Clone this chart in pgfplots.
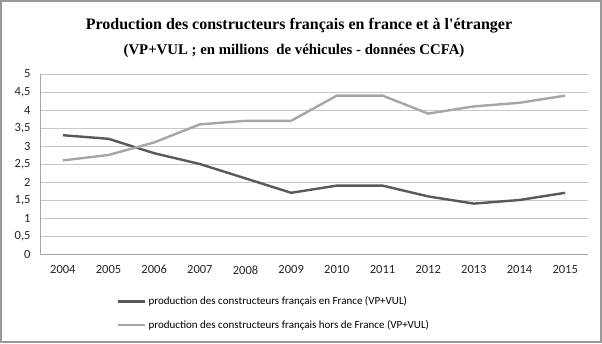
\documentclass[border=0pt]{standalone}
\usepackage{fontspec}
\setmainfont{Carlito}
\newfontfamily\titlefont{Liberation Serif}
\usepackage{pgfplots}
\pgfplotsset{compat=1.18}
\definecolor{darkline}{RGB}{89,89,89}
\definecolor{lightline}{RGB}{166,166,166}
\definecolor{gridc}{RGB}{200,200,200}
\begin{document}
\begin{tikzpicture}[x=1pt,y=1pt]
\fill[white] (0,0) rectangle (602,343);
\draw[line width=2pt, color=gray!80] (1,1) rectangle (601,342);
\node[font=\titlefont\bfseries\fontsize{16}{18}\selectfont] at (299,317) {Production des constructeurs français en france et à l'étranger};
\node[font=\titlefont\bfseries\fontsize{14.8}{17}\selectfont] at (294,292) {(VP+VUL ; en millions\ \ de véhicules - données CCFA)};
\begin{axis}[
  at={(40pt,89pt)}, anchor=south west,
  scale only axis, width=548pt, height=180pt,
  xmin=-0.5, xmax=11.5, ymin=0, ymax=5,
  xtick={0,...,11},
  xticklabels={2004,2005,2006,2007,2008,2009,2010,2011,2012,2013,2014,2015},
  ytick={0,0.5,...,5},
  /pgf/number format/use comma,
  /pgf/number format/fixed,
  /pgf/number format/assume math mode=true,
  tick label style={font=\fontsize{12.5}{14}\selectfont, text=black!85},
  xticklabel style={yshift=-8pt},
  yticklabel style={xshift=-6pt},
  major tick length=0pt,
  ymajorgrids, grid style={color=gridc, line width=0.8pt},
  axis x line=bottom, axis y line=left,
  axis line style={-, color=gray!70, line width=0.8pt},
  legend style={at={(0.1405,-0.225)}, anchor=north west, draw=none, fill=none,
    font=\fontsize{11}{13}\selectfont, row sep=10pt, cells={anchor=west}, inner sep=0pt},
  legend image code/.code={\draw[#1] (0pt,0pt) -- (27pt,0pt);},
  legend cell align=left,
]
\addplot[color=darkline, line width=2.4pt] coordinates {
(0,3.3) (1,3.2) (2,2.8) (3,2.5) (4,2.1) (5,1.7) (6,1.9) (7,1.9) (8,1.6) (9,1.4) (10,1.5) (11,1.7)};
\addlegendentry{production des constructeurs français en France (VP+VUL)}
\addplot[color=lightline, line width=2.4pt] coordinates {
(0,2.6) (1,2.75) (2,3.1) (3,3.6) (4,3.7) (5,3.7) (6,4.4) (7,4.4) (8,3.9) (9,4.1) (10,4.2) (11,4.4)};
\addlegendentry{production des constructeurs français hors de France (VP+VUL)}
\end{axis}
\end{tikzpicture}
\end{document}
